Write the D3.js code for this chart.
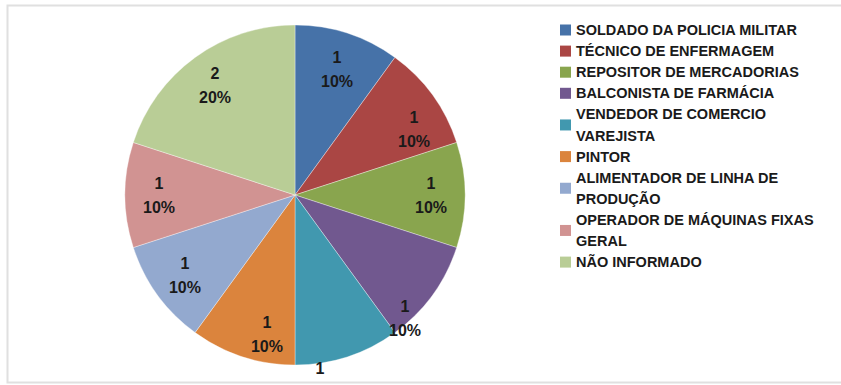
<!DOCTYPE html>
<html>
<head>
<meta charset="utf-8">
<script src="https://cdn.jsdelivr.net/npm/d3@7"></script>
<style>
  body { margin: 0; background: #fff; }
  svg { display: block; }
  text { font-family: "Liberation Sans", Arial, sans-serif; font-weight: bold; fill: #1a1a1a; }
</style>
</head>
<body>
<div id="chart"></div>
<script>
// chart data
var categories = [
    "SOLDADO DA POLICIA MILITAR",
    "TÉCNICO DE ENFERMAGEM",
    "REPOSITOR DE MERCADORIAS",
    "BALCONISTA DE FARMÁCIA",
    "VENDEDOR DE COMERCIO VAREJISTA",
    "PINTOR",
    "ALIMENTADOR DE LINHA DE PRODUÇÃO",
    "OPERADOR DE MÁQUINAS FIXAS GERAL",
    "NÃO INFORMADO"
];
var counts = [1, 1, 1, 1, 1, 1, 1, 1, 2];
var colors = ["#4672A8", "#AA4644", "#89A54E", "#71588F", "#4198AF",
              "#DB843D", "#93A9CF", "#D19392", "#B9CD96"];

var W = 841, H = 385;
var cx = 295, cy = 195, radius = 170;
var labelRadius = 136;
// excel "best fit" moved some labels around
var labelNudge = { 0: [0, 3], 1: [9, 14], 3: [0, 43], 4: [-17, 56], 5: [14, 10] };

var svg = d3.select("#chart").append("svg")
    .attr("width", W)
    .attr("height", H);

// chart area border
svg.append("rect")
    .attr("x", 7.5).attr("y", 5.5)
    .attr("width", W + 10).attr("height", 377)
    .attr("fill", "none")
    .attr("stroke", "#e0e0e0")
    .attr("stroke-width", 2);

var total = d3.sum(counts);
var pie = d3.pie().sort(null).value(function(d) { return d; });
var arcs = pie(counts);

var arc = d3.arc().innerRadius(0).outerRadius(radius);
var labelArc = d3.arc().innerRadius(labelRadius).outerRadius(labelRadius);

var g = svg.append("g").attr("transform", "translate(" + cx + "," + cy + ")");

g.selectAll("path.slice")
    .data(arcs)
    .enter().append("path")
    .attr("class", "slice")
    .attr("d", arc)
    .attr("fill", function(d, i) { return colors[i]; })
    .attr("stroke", "#ffffff")
    .attr("stroke-opacity", 0.5)
    .attr("stroke-width", 0.7);

var fmtPct = d3.format(".0%");

var labels = g.selectAll("text.lbl")
    .data(arcs)
    .enter().append("text")
    .attr("class", "lbl")
    .attr("text-anchor", "middle")
    .style("font-size", "16px")
    .attr("transform", function(d, i) {
        var c = labelArc.centroid(d);
        var n = labelNudge[i] || [0, 0];
        return "translate(" + (c[0] + n[0]) + "," + (c[1] + n[1]) + ")";
    });

labels.append("tspan")
    .attr("x", 0).attr("y", -6)
    .text(function(d) { return d.value; });
labels.append("tspan")
    .attr("x", 0).attr("y", 18)
    .text(function(d) { return fmtPct(d.value / total); });

// legend
var legend = svg.append("g").attr("transform", "translate(560,0)");
var lineH = 21.1, firstY = 30, maxW = 250;
var row = 0;

categories.forEach(function(name, i) {
    var t = legend.append("text")
        .style("font-size", "14.5px")
        .attr("x", 16);
    // wrap words to maxW
    var words = name.split(" "), lines = [], cur = "";
    var probe = legend.append("text").style("font-size", "14.5px");
    words.forEach(function(w) {
        var test = cur ? cur + " " + w : w;
        probe.text(test);
        if (probe.node().getComputedTextLength() > maxW && cur) {
            lines.push(cur);
            cur = w;
        } else {
            cur = test;
        }
    });
    lines.push(cur);
    probe.remove();

    lines.forEach(function(l, k) {
        t.append("tspan")
            .attr("x", 16)
            .attr("y", firstY + (row + k) * lineH + 5)
            .text(l);
    });
    var mid = firstY + (row + (lines.length - 1) / 2) * lineH;
    legend.append("rect")
        .attr("x", 0).attr("y", mid - 5.5)
        .attr("width", 11).attr("height", 11)
        .attr("fill", colors[i]);
    row += lines.length;
});
</script>
</body>
</html>
